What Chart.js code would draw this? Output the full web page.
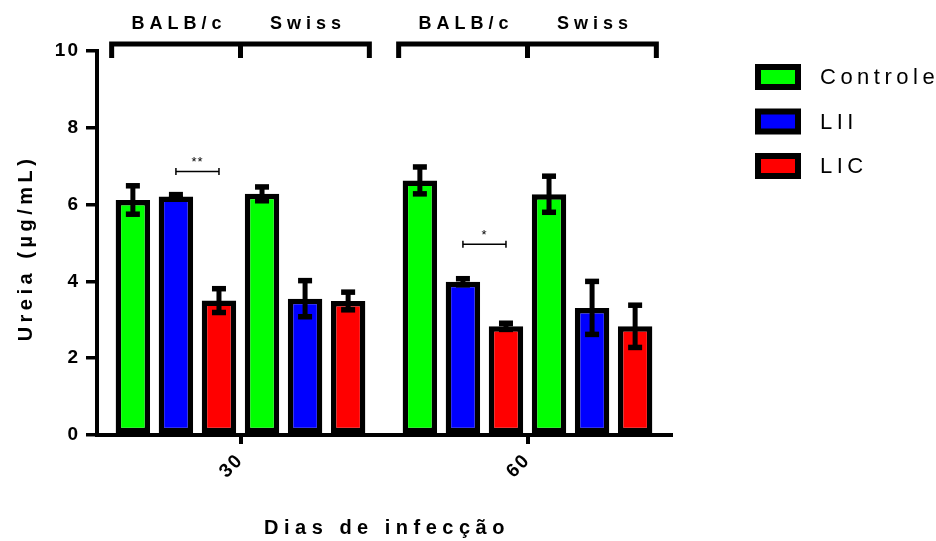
<!DOCTYPE html>
<html>
<head>
<meta charset="utf-8">
<script src="https://cdn.jsdelivr.net/npm/chart.js@4.4.1/dist/chart.umd.min.js"></script>
<style>
  html, body { margin: 0; padding: 0; background: #fff; }
</style>
</head>
<body>
<canvas id="myChart" width="936" height="541"></canvas>
<script>
const days = ['30', '60']
const strains = ['BALB/c', 'Swiss']
const groups = ['Controle', 'LII', 'LIC']
const groupColors = ['#00FF00', '#0000FF', '#FF0000']
const yTicks = [0, 2, 4, 6, 8, 10]

const balbControle = [6.12, 6.63]
const balbControleErr = [0.37, 0.35]
const balbLII = [6.21, 3.99]
const balbLIIErr = [0.05, 0.08]
const balbLIC = [3.50, 2.83]
const balbLICErr = [0.31, 0.08]
const swissControle = [6.28, 6.27]
const swissControleErr = [0.18, 0.47]
const swissLII = [3.55, 3.31]
const swissLIIErr = [0.47, 0.69]
const swissLIC = [3.49, 2.83]
const swissLICErr = [0.23, 0.55]

// LII vs LIC (BALB/c) comparisons
const sigLevel = [6.86, 4.97]
const sigText = ['**', '*']

const yTitle = 'Ureia (µg/mL)'
const xTitle = 'Dias de infecção'

const FONT = "'Liberation Sans', Arial, sans-serif"

const makeSet = (label, data, err, color) => ({
  label: label,
  data: data,
  err: err,
  backgroundColor: color,
  borderColor: '#000',
  borderWidth: 5.5,
  borderSkipped: false
})

const errorBars = {
  id: 'errorBars',
  afterDatasetsDraw(chart) {
    const ctx = chart.ctx
    const y = chart.scales.y
    ctx.save()
    ctx.strokeStyle = '#000'
    ctx.fillStyle = '#000'
    chart.data.datasets.forEach((ds, i) => {
      chart.getDatasetMeta(i).data.forEach((bar, j) => {
        const top = y.getPixelForValue(ds.data[j] + ds.err[j])
        const bot = y.getPixelForValue(ds.data[j] - ds.err[j])
        ctx.lineWidth = 5
        ctx.beginPath()
        ctx.moveTo(bar.x, top)
        ctx.lineTo(bar.x, bot)
        ctx.stroke()
        ctx.fillRect(bar.x - 7, top - 2.75, 14, 5.5)
        ctx.fillRect(bar.x - 7, bot - 2.75, 14, 5.5)
      })
    })
    ctx.restore()
  }
}

const annotations = {
  id: 'annotations',
  afterDraw(chart) {
    const ctx = chart.ctx
    const y = chart.scales.y
    const x = chart.scales.x
    const area = chart.chartArea
    const metas = chart.data.datasets.map((ds, i) => chart.getDatasetMeta(i))
    ctx.save()
    ctx.fillStyle = '#000'
    ctx.strokeStyle = '#000'

    // significance brackets between LII and LIC (BALB/c)
    days.forEach((d, j) => {
      const a = metas[1].data[j].x
      const b = metas[2].data[j].x
      const py = y.getPixelForValue(sigLevel[j])
      ctx.lineWidth = 1.5
      ctx.beginPath()
      ctx.moveTo(a, py); ctx.lineTo(b, py)
      ctx.moveTo(a, py - 3.5); ctx.lineTo(a, py + 3.5)
      ctx.moveTo(b, py - 3.5); ctx.lineTo(b, py + 3.5)
      ctx.stroke()
      ctx.letterSpacing = '1px'
      ctx.font = '13px ' + FONT
      ctx.textAlign = 'center'
      ctx.textBaseline = 'middle'
      ctx.fillText(sigText[j], (a + b) / 2, py - 9)
    })

    // strain brackets on top
    const top = area.top - 7
    days.forEach((d, j) => {
      const first = metas[0].data[j]
      const last = metas[5].data[j]
      const left = first.x - first.width / 2 - 4
      const right = last.x + last.width / 2 + 4
      const mid = x.getPixelForValue(j)
      ctx.lineWidth = 5
      ctx.beginPath()
      ctx.moveTo(left, top + 14); ctx.lineTo(left, top); ctx.lineTo(right, top); ctx.lineTo(right, top + 14)
      ctx.moveTo(mid, top); ctx.lineTo(mid, top + 14)
      ctx.stroke()
      ctx.letterSpacing = '5px'
      ctx.font = 'bold 18px ' + FONT
      ctx.textAlign = 'center'
      ctx.textBaseline = 'middle'
      ctx.fillText(strains[0], (left + mid) / 2 + 3, 24)
      ctx.fillText(strains[1], (mid + right) / 2 + 3, 24)
    })

    // axis titles
    ctx.letterSpacing = '5.5px'
    ctx.font = 'bold 20px ' + FONT
    ctx.textAlign = 'center'
    ctx.textBaseline = 'middle'
    ctx.fillText(xTitle, (area.left + area.right) / 2 + 3, 528)
    ctx.save()
    ctx.translate(26, 250)
    ctx.rotate(-Math.PI / 2)
    ctx.letterSpacing = '4.5px'
    ctx.font = 'bold 20px ' + FONT
    ctx.fillText(yTitle, 2, 0)
    ctx.restore()

    // legend
    const lx = area.right + 84
    groups.forEach((g, i) => {
      const ly = 64 + i * 44.5
      ctx.fillStyle = '#000'
      ctx.fillRect(lx, ly, 46, 26)
      ctx.fillStyle = groupColors[i]
      ctx.fillRect(lx + 6, ly + 6, 34, 14)
      ctx.fillStyle = '#000'
      ctx.letterSpacing = '4.5px'
      ctx.font = '22px ' + FONT
      ctx.textAlign = 'left'
      ctx.textBaseline = 'middle'
      ctx.fillText(g, lx + 65, ly + 14)
    })
    ctx.restore()
  }
}

const spacing = {
  id: 'spacing',
  beforeDraw(chart) {
    chart.ctx.letterSpacing = '2px'
  }
}

const ctx = document.getElementById('myChart').getContext('2d')

const myChart = new Chart(ctx, {
  type: 'bar',
  data: {
    labels: days,
    datasets: [
      makeSet(groups[0], balbControle, balbControleErr, groupColors[0]),
      makeSet(groups[1], balbLII, balbLIIErr, groupColors[1]),
      makeSet(groups[2], balbLIC, balbLICErr, groupColors[2]),
      makeSet(groups[0], swissControle, swissControleErr, groupColors[0]),
      makeSet(groups[1], swissLII, swissLIIErr, groupColors[1]),
      makeSet(groups[2], swissLIC, swissLICErr, groupColors[2])
    ]
  },
  options: {
    responsive: false,
    animation: false,
    categoryPercentage: 0.9,
    barPercentage: 0.8,
    layout: {
      padding: { top: 51, right: 265, left: 0, bottom: 0 }
    },
    plugins: {
      legend: { display: false },
      tooltip: { enabled: false }
    },
    scales: {
      x: {
        grid: {
          offset: false,
          drawOnChartArea: false,
          color: '#000',
          lineWidth: 4,
          tickLength: 9
        },
        border: { color: '#000', width: 4 },
        ticks: {
          color: '#000',
          minRotation: 45,
          maxRotation: 45,
          padding: 5,
          font: { family: FONT, size: 19, weight: 'bold' }
        },
        afterFit(scale) { scale.height = 106 }
      },
      y: {
        min: 0,
        max: 10,
        afterBuildTicks(scale) {
          scale.ticks = yTicks.map(v => ({ value: v }))
        },
        grid: {
          drawOnChartArea: false,
          color: '#000',
          lineWidth: 3.5,
          tickLength: 11
        },
        border: { color: '#000', width: 4 },
        ticks: {
          color: '#000',
          padding: 6,
          font: { family: FONT, size: 19, weight: 'bold' }
        },
        afterFit(scale) { scale.width = 97 }
      }
    }
  },
  plugins: [spacing, errorBars, annotations]
});
</script>
</body>
</html>
